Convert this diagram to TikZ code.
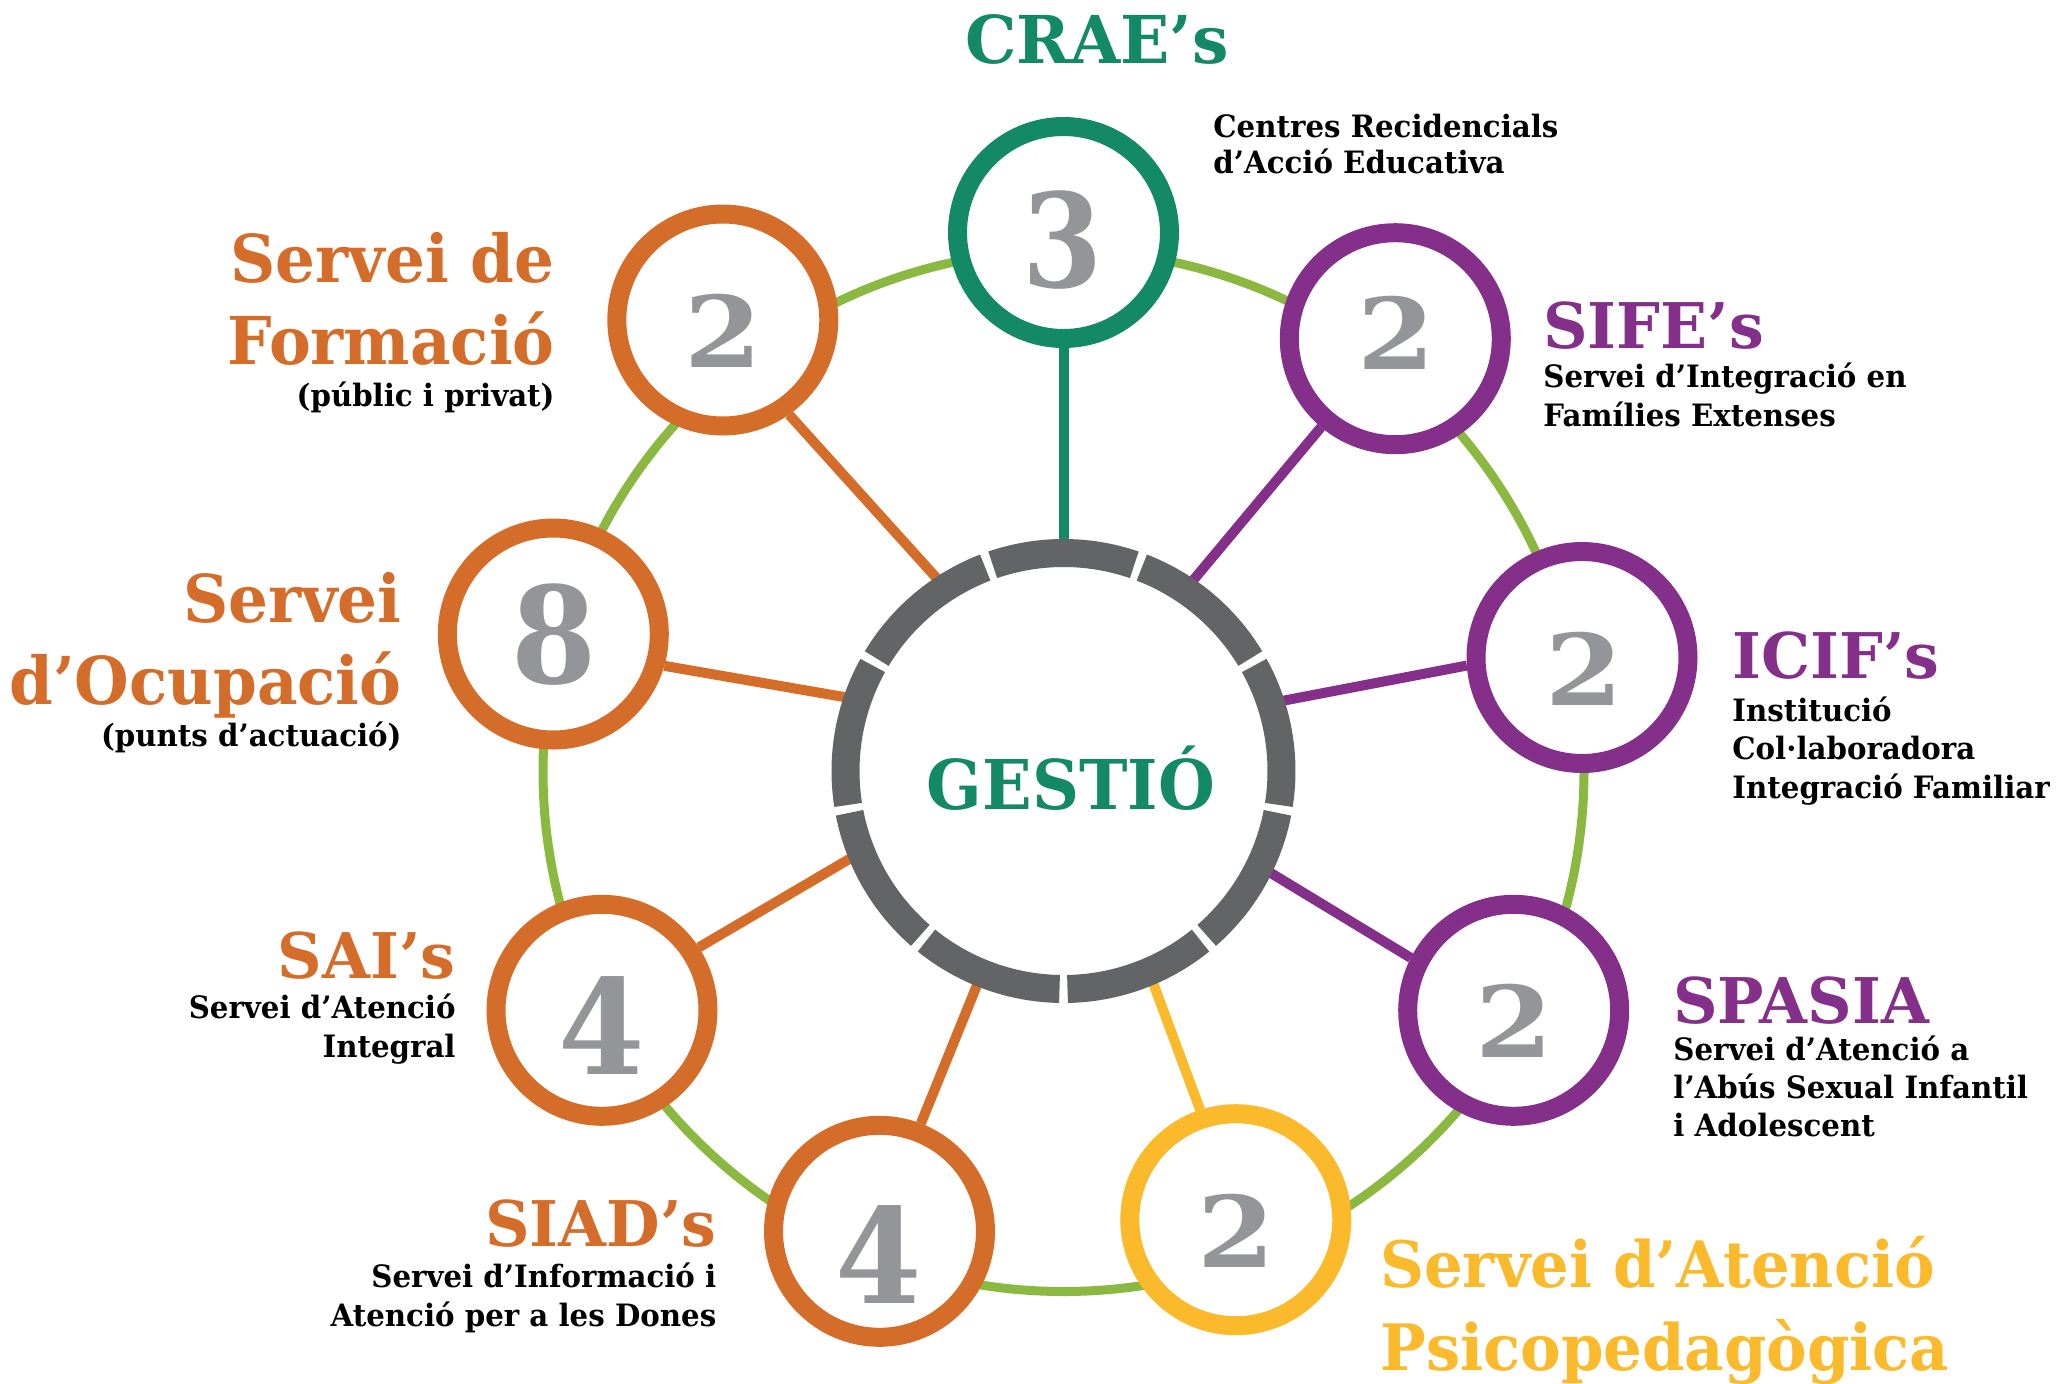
\documentclass[tikz,border=0pt]{standalone}
\usepackage{fontspec}
\usepackage{graphicx}
\setmainfont{DejaVu Serif}
\newfontfamily\labfont{DejaVu Serif}[FakeStretch=0.95]
\newfontfamily\capfont{DejaVu Serif}[FakeStretch=0.98]
\newfontfamily\digfont{DejaVu Serif}[FakeStretch=0.9]
\definecolor{cgreen}{HTML}{138A65}
\definecolor{corange}{HTML}{D56D2A}
\definecolor{cpurple}{HTML}{84308A}
\definecolor{cyellow}{HTML}{FBB92C}
\definecolor{cring}{HTML}{636466}
\definecolor{cdigit}{HTML}{939598}
\definecolor{clight}{HTML}{8AB840}
\pgfdeclarelayer{bg}
\pgfsetlayers{bg,main}
\newcommand\fsz[1]{\fontsize{#1}{#1}\selectfont}
\begin{document}
\begin{tikzpicture}[x=0.5pt,y=0.5pt,
  sat/.style={circle, draw=#1, line width=9.5pt, fill=white, minimum size=106pt, inner sep=0pt},
  spoke/.style={draw=#1, line width=5pt},
  greenring/.style={draw=clight, line width=4.5pt},
  ringseg/.style={draw=cring, line width=14pt},
  ttl/.style={font=\labfont\bfseries, text=#1, inner sep=0pt},
  sub/.style={font=\labfont\bfseries\fsz{15.4}, text=black, inner sep=0pt},
  dig/.style={font=\digfont\bfseries\fsz{100}, text=cdigit, inner sep=0pt}]
\useasboundingbox (0,0) rectangle (2058,-1383);
% satellites
\node[sat=cgreen] (crae) at (1063.5,-232.5) {};
\node[sat=cpurple] (sife) at (1395.3,-338.7) {};
\node[sat=cpurple] (icif) at (1582,-657.5) {};
\node[sat=cpurple] (spasia) at (1513.7,-1010.3) {};
\node[sat=cyellow] (psico) at (1235.8,-1219.7) {};
\node[sat=corange] (siad) at (879.5,-1231.3) {};
\node[sat=corange] (sai) at (602,-1010.3) {};
\node[sat=corange] (ocup) at (553.3,-634) {};
\node[sat=corange] (form) at (722.8,-320) {};
% centre
\node[circle, fill=white, minimum size=222pt, inner sep=0pt] (g) at (1063.5,-771) {};
\foreach \k in {0,...,8}{
  \draw[ringseg] ([shift={(-88.95+40*\k:218)}]g.center) arc[start angle=-88.95+40*\k, end angle=-51.05+40*\k, radius=218];
}
\begin{pgfonlayer}{bg}
\draw[greenring] (g.center) circle[radius=520.5];
\draw[spoke=cgreen] (crae.-90) -- (g.90);
\draw[spoke=cpurple] (sife.230.6) -- (g.56);
\draw[spoke=cpurple] (icif.184) -- (g.18);
\draw[spoke=cpurple] (spasia.153) -- (g.-26.5);
\draw[spoke=cyellow] (psico.108) -- (g.-67.4);
\draw[spoke=corange] (siad.69) -- (g.-112.3);
\draw[spoke=corange] (sai.33.2) -- (g.202.5);
\draw[spoke=corange] (ocup.-16.3) -- (g.161.9);
\draw[spoke=corange] (form.-55.5) -- (g.123.6);
\end{pgfonlayer}
% digits
\node[dig] (n-crae) at (1063,-240.5) {\scalebox{0.64}[0.652]{3}};
\node[dig] (n-sife) at (1396.7,-333.3) {\scalebox{0.62}[0.494]{2}};
\node[dig] (n-icif) at (1584,-669) {\scalebox{0.62}[0.494]{2}};
\node[dig] (n-spasia) at (1514,-1021.3) {\scalebox{0.62}[0.494]{2}};
\node[dig] (n-psico) at (1236.7,-1231) {\scalebox{0.62}[0.494]{2}};
\node[dig] (n-form) at (723.8,-331) {\scalebox{0.62}[0.494]{2}};
\node[dig] (n-siad) at (878.7,-1254.3) {\scalebox{0.69}[0.66]{4}};
\node[dig] (n-sai) at (601.7,-1025.3) {\scalebox{0.69}[0.66]{4}};
\node[dig] (n-ocup) at (553.7,-634.4) {\scalebox{0.68}[0.672]{8}};
% centre label
\node[ttl=cgreen, font=\labfont\bfseries\fsz{34.3}, anchor=base] (gl) at (1071,-809) {GESTIÓ};
% CRAE
\node[ttl=cgreen, font=\capfont\bfseries\fsz{33}, anchor=base] (t-crae) at (1097,-63) {CRAE’s};
\node[sub, anchor=base west] (s-crae1) at (1213,-137) {Centres Recidencials};
\node[sub, anchor=base west] (s-crae2) at (1213,-173) {d’Acció Educativa};
% Formacio
\node[ttl=corange, font=\labfont\bfseries\fsz{33}, anchor=base east] (t-form1) at (555,-282) {Servei de};
\node[ttl=corange, font=\labfont\bfseries\fsz{33}, anchor=base east] (t-form2) at (555,-364) {Formació};
\node[sub, anchor=base east] (s-form) at (555,-406) {(públic i privat)};
% Ocupacio
\node[ttl=corange, font=\labfont\bfseries\fsz{33}, anchor=base east] (t-ocup1) at (402,-622.5) {Servei};
\node[ttl=corange, font=\labfont\bfseries\fsz{33}, anchor=base east] (t-ocup2) at (402,-704) {d’Ocupació};
\node[sub, anchor=base east] (s-ocup) at (402,-746) {(punts d’actuació)};
% SIFE
\node[ttl=cpurple, font=\capfont\bfseries\fsz{31.5}, anchor=base west] (t-sife) at (1543,-348) {SIFE’s};
\node[sub, anchor=base west] (s-sife1) at (1543,-387.5) {Servei d’Integració en};
\node[sub, anchor=base west] (s-sife2) at (1543,-426) {Famílies Extenses};
% ICIF
\node[ttl=cpurple, font=\capfont\bfseries\fsz{31.5}, anchor=base west] (t-icif) at (1732,-678) {ICIF’s};
\node[sub, anchor=base west] (s-icif1) at (1732,-721) {Institució};
\node[sub, anchor=base west] (s-icif2) at (1732,-759) {Col·laboradora};
\node[sub, anchor=base west] (s-icif3) at (1732,-798) {Integració Familiar};
% SPASIA
\node[ttl=cpurple, font=\capfont\bfseries\fsz{31.5}, anchor=base west] (t-spasia) at (1673,-1023) {SPASIA};
\node[sub, anchor=base west] (s-spasia1) at (1673,-1060) {Servei d’Atenció a};
\node[sub, anchor=base west] (s-spasia2) at (1673,-1098) {l’Abús Sexual Infantil};
\node[sub, anchor=base west] (s-spasia3) at (1673,-1136) {i Adolescent};
% SAI
\node[ttl=corange, font=\capfont\bfseries\fsz{31.5}, anchor=base east] (t-sai) at (456,-978) {SAI’s};
\node[sub, anchor=base east] (s-sai1) at (456,-1018) {Servei d’Atenció};
\node[sub, anchor=base east] (s-sai2) at (456,-1057) {Integral};
% SIAD
\node[ttl=corange, font=\capfont\bfseries\fsz{31.5}, anchor=base east] (t-siad) at (716.7,-1246.7) {SIAD’s};
\node[sub, anchor=base east] (s-siad1) at (716.7,-1287) {Servei d’Informació i};
\node[sub, anchor=base east] (s-siad2) at (716.7,-1326) {Atenció per a les Dones};
% Psico
\node[ttl=cyellow, font=\labfont\bfseries\fsz{32}, anchor=base west] (t-psico1) at (1380,-1287) {Servei d’Atenció};
\node[ttl=cyellow, font=\labfont\bfseries\fsz{32}, anchor=base west] (t-psico2) at (1380,-1370) {Psicopedagògica};
\end{tikzpicture}
\end{document}
